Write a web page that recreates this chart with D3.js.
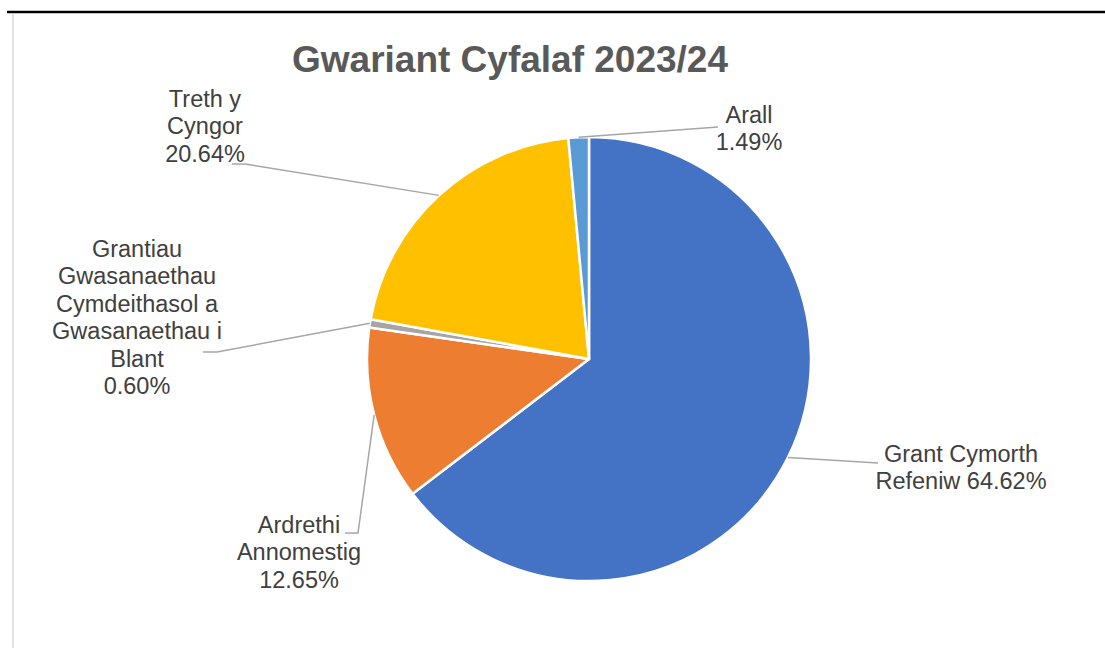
<!DOCTYPE html>
<html>
<head>
<meta charset="utf-8">
<script src="https://cdn.jsdelivr.net/npm/d3@7"></script>
<style>
    html, body { margin: 0; padding: 0; background: #fff; }
    svg { display: block; font-family: "Liberation Sans", Arial, sans-serif; }
</style>
</head>
<body>
<svg id="chart_pie"></svg>
<script>
// Chart data
const categories = ["Grant Cymorth Refeniw", "Ardrethi Annomestig", "Grantiau Gwasanaethau Cymdeithasol a Gwasanaethau i Blant", "Treth y Cyngor", "Arall"];
const values = [64.62, 12.65, 0.60, 20.64, 1.49];
const labelLines = [
    ["Grant Cymorth", "Refeniw 64.62%"],
    ["Ardrethi", "Annomestig", "12.65%"],
    ["Grantiau", "Gwasanaethau", "Cymdeithasol a", "Gwasanaethau i", "Blant", "0.60%"],
    ["Treth y", "Cyngor", "20.64%"],
    ["Arall", "1.49%"]
];
const sliceColours = ["#4472c4", "#ed7d31", "#a5a5a5", "#ffc000", "#5b9bd5"];

// Where the data labels sit (text centre, first baseline) and where the leader line bends / ends
const labelLayout = [
    { x: 961, y: 462, elbow: [878, 463], end: [878, 463] },
    { x: 299, y: 533, elbow: [358, 533], end: [345, 533] },
    { x: 137, y: 257, elbow: [217, 352], end: [203, 352] },
    { x: 205, y: 107, elbow: [245, 164], end: [232, 164] },
    { x: 749, y: 123, elbow: [718, 127], end: [718, 127] }
];

const width = 1105;
const height = 648;
const cx = 589;
const cy = 359;
const radius = 222;
const lineHeight = 27.4;

const svg = d3.select("#chart_pie")
    .attr("width", width)
    .attr("height", height);

// Frame lines
svg.append("line")
    .attr("x1", 7).attr("x2", width)
    .attr("y1", 12).attr("y2", 12)
    .attr("stroke", "#000")
    .attr("stroke-width", 2.5);

svg.append("line")
    .attr("x1", 13).attr("x2", 13)
    .attr("y1", 13.5).attr("y2", height)
    .attr("stroke", "#d9d9d9")
    .attr("stroke-width", 1.5);

// Title
svg.append("text")
    .attr("x", 510)
    .attr("y", 72)
    .attr("text-anchor", "middle")
    .attr("font-size", "37px")
    .attr("font-weight", "bold")
    .attr("fill", "#595959")
    .text("Gwariant Cyfalaf 2023/24");

const pie = d3.pie().sort(null).value(d => d);
const arcs = pie(values);

const arc = d3.arc().innerRadius(0).outerRadius(radius);

const g = svg.append("g")
    .attr("transform", `translate(${cx}, ${cy})`);

g.selectAll("path.slice")
    .data(arcs)
    .join("path")
    .attr("class", "slice")
    .attr("d", arc)
    .attr("fill", (d, i) => sliceColours[i])
    .attr("stroke", "#fff")
    .attr("stroke-width", 2.5)
    .attr("stroke-linejoin", "round");

// Leader lines, starting at the outer edge in the middle of each slice
arcs.forEach((d, i) => {
    const mid = (d.startAngle + d.endAngle) / 2;
    const sx = cx + radius * Math.sin(mid);
    const sy = cy - radius * Math.cos(mid);
    const lay = labelLayout[i];
    svg.append("polyline")
        .attr("points", [[sx, sy], lay.elbow, lay.end].map(p => p.join(",")).join(" "))
        .attr("fill", "none")
        .attr("stroke", "#a6a6a6")
        .attr("stroke-width", 1.5);
});

// Data labels
labelLines.forEach((lines, i) => {
    const lay = labelLayout[i];
    const t = svg.append("text")
        .attr("text-anchor", "middle")
        .attr("font-size", "23.5px")
        .attr("fill", "#404040");
    lines.forEach((line, j) => {
        t.append("tspan")
            .attr("x", lay.x)
            .attr("y", lay.y + j * lineHeight)
            .text(line);
    });
});
</script>
</body>
</html>
